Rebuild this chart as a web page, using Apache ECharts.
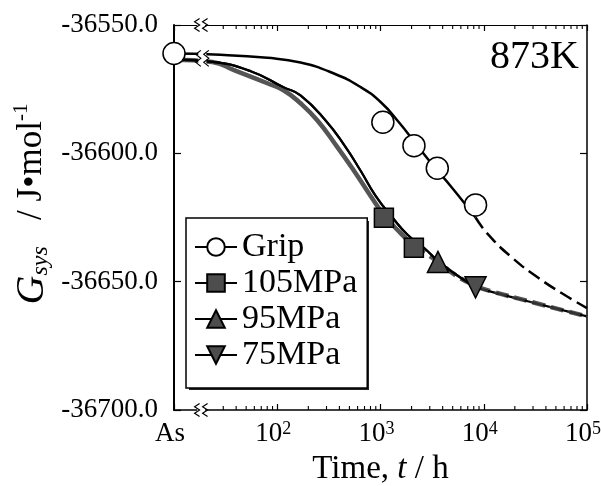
<!DOCTYPE html>
<html><head><meta charset="utf-8">
<script src="https://cdn.jsdelivr.net/npm/echarts@6/dist/echarts.min.js"></script>
<style>html,body{margin:0;padding:0;background:#fff}#c{width:601px;height:486px}</style>
</head><body><div id="c"></div>
<script>
// ---- axis settings ----
const X_MIN = 10, X_MAX = 100000;
const Y_MIN = -36700, Y_MAX = -36550, Y_STEP = 50;
const xTickLabels = { 1: 'As', 2: '10{s|2}', 3: '10{s|3}', 4: '10{s|4}', 5: '10{s|5}' };
const minorTickT = [30,40,50,60,70,80,90,200,300,400,500,600,700,800,900,
  2000,3000,4000,5000,6000,7000,8000,9000,20000,30000,40000,50000,60000,70000,80000,90000];

// ---- measured points ----
const gripT = [10, 1054, 2109, 3548, 8330];
const gripV = [-36561.1, -36587.9, -36597.0, -36605.8, -36620.1];
const mpa105T = [1079, 2105];
const mpa105V = [-36625.1, -36636.8];
const mpa95T = [3600];
const mpa95V = [-36642.3];
const mpa75T = [8330];
const mpa75V = [-36652.2];

// ---- fitted curves (solid part, dashed extrapolation) ----
const gripFitT = [10, 24.4, 80.2, 168, 354, 642, 1002, 1507, 2271, 3415, 4771, 7450, 8330];
const gripFitV = [-36561.1, -36561.5, -36562.8, -36564.6, -36568.9, -36574.2, -36580.0, -36587.9, -36597.0, -36605.9, -36612.7, -36622.4, -36625.0];
const gripExtT = [8330, 11130, 19000, 33180, 59230, 100000];
const gripExtV = [-36625.0, -36631.8, -36640.8, -36648.3, -36654.9, -36660.3];

const fit105T = [10, 23.5, 38.1, 80.2, 116, 168, 245, 373, 553, 802, 1079, 1565, 2105];
const fit105V = [-36563.5, -36564.4, -36567.6, -36572.7, -36575.5, -36580.5, -36587.2, -36597.0, -36606.8, -36616.6, -36624.0, -36631.1, -36636.1];
const ext105T = [2105, 3651, 5333, 8330, 11500, 30350, 64740, 100000];
const ext105V = [-36636.1, -36642.4, -36647.5, -36651.6, -36653.6, -36658.1, -36661.6, -36663.5];

const fit95T = [10, 23.5, 55.3, 116, 168, 294, 449, 642, 897, 1310, 1817, 2631, 3600];
const fit95V = [-36563.5, -36564.4, -36568.0, -36574.3, -36577.4, -36587.2, -36597.0, -36606.8, -36616.6, -36625.1, -36631.6, -36636.8, -36642.0];
const ext95T = [3600, 5333, 8330, 11500, 30350, 64740, 100000];
const ext95V = [-36642.0, -36647.1, -36652.0, -36653.8, -36658.2, -36661.6, -36663.5];

const fit75T = [10, 23.5, 55.3, 116, 168, 294, 449, 642, 897, 1310, 1817, 2631, 3600, 5333, 8330];
const fit75V = [-36563.5, -36564.4, -36568.0, -36574.3, -36577.4, -36587.2, -36597.0, -36606.8, -36616.6, -36625.1, -36631.6, -36636.8, -36642.0, -36647.1, -36652.2];
const ext75T = [8330, 11500, 30350, 64740, 100000];
const ext75V = [-36652.2, -36653.8, -36658.2, -36661.6, -36663.5];

// axis-break marks (data-space anchor positions)
const breakT = [18.3, 18.3, 18.8];
const breakV = [-36550, -36700, -36563];

const zip = (a, b) => a.map((v, i) => [v, b[i]]);
const FONT = 'Liberation Serif';
const MARK_FILL = '#4d4d4d';

function curve(name, T, V, color, width, dashed, z) {
  return {
    name, type: 'line', data: zip(T, V), symbol: 'none', smooth: 0.5,
    lineStyle: { color, width, type: dashed ? [13, 6] : 'solid', cap: 'butt', join: 'round' },
    z, silent: true
  };
}
function marks(name, T, V, symbol, size, fill, rotate) {
  return {
    name, type: 'line', data: zip(T, V), symbol, symbolSize: size, symbolRotate: rotate || 0,
    showAllSymbol: true, lineStyle: { width: 0, opacity: 0 },
    itemStyle: { color: fill, borderColor: '#000', borderWidth: 1.5, opacity: 1 },
    z: 6, silent: true
  };
}

const chart = echarts.init(document.getElementById('c'), null, { renderer: 'canvas' });

const option = {
  animation: false,
  backgroundColor: '#fff',
  grid: { left: 174, right: 14, top: 25, bottom: 76, containLabel: false, outerBoundsMode: 'none' },
  xAxis: [{
    type: 'log', logBase: 10, min: X_MIN, max: X_MAX, position: 'bottom',
    axisLine: { onZero: false, lineStyle: { color: '#000', width: 1.5 } },
    axisTick: { inside: true, length: 6, lineStyle: { color: '#000', width: 1.2 } },
    splitLine: { show: false },
    axisLabel: {
      color: '#000', fontFamily: FONT, fontSize: 27, margin: 10, padding: [0, 8, 0, 0],
      formatter: v => xTickLabels[Math.round(Math.log10(v))] || '',
      rich: { s: { fontSize: 18, fontFamily: FONT, verticalAlign: 'top', lineHeight: 18, padding: [0, 0, 10, 0] } }
    },
    name: '{a|Time, }{i|t}{a| / h}', nameLocation: 'middle', nameGap: 36,
    nameTextStyle: { color: '#000', fontFamily: FONT, fontSize: 33,
      rich: { a: { fontFamily: FONT, fontSize: 33, color: '#000' }, i: { fontFamily: FONT, fontSize: 33, fontStyle: 'italic', color: '#000' } } }
  }, {
    type: 'log', logBase: 10, min: X_MIN, max: X_MAX, position: 'top',
    axisLine: { onZero: false, lineStyle: { color: '#000', width: 1.2 } },
    axisTick: { inside: true, length: 6, lineStyle: { color: '#000', width: 1.2 } },
    axisLabel: { show: false }, splitLine: { show: false }
  }],
  yAxis: [{
    type: 'value', min: Y_MIN, max: Y_MAX, interval: Y_STEP, position: 'left',
    axisLine: { show: true, onZero: false, lineStyle: { color: '#000', width: 2 } },
    axisTick: { inside: true, length: 7, lineStyle: { color: '#000', width: 1.2 } },
    splitLine: { show: false },
    axisLabel: { color: '#000', fontFamily: FONT, fontSize: 27, margin: 16, formatter: v => v.toFixed(1) }
  }, {
    type: 'value', min: Y_MIN, max: Y_MAX, interval: Y_STEP, position: 'right',
    axisLine: { show: true, onZero: false, lineStyle: { color: '#000', width: 1.5 } },
    axisTick: { inside: true, length: 7, lineStyle: { color: '#000', width: 1.2 } },
    splitLine: { show: false }, axisLabel: { show: false }
  }],
  legend: {
    data: [
      { name: 'Grip', lineStyle: { color: '#000', width: 2, opacity: 1, type: 'solid' } },
      { name: '105MPa', lineStyle: { color: '#000', width: 2, opacity: 1, type: 'solid' } },
      { name: '95MPa', lineStyle: { color: '#000', width: 2, opacity: 1, type: 'solid' } },
      { name: '75MPa', lineStyle: { color: '#000', width: 2, opacity: 1, type: 'solid' } }
    ],
    orient: 'vertical', left: 186, top: 218, z: 8,
    itemWidth: 42, itemHeight: 22, itemGap: 2,
    textStyle: { fontSize: 34, lineHeight: 34, fontFamily: FONT, color: '#000' },
    backgroundColor: '#fff', borderColor: '#000', borderWidth: 1.5, borderRadius: 0,
    padding: [12, 10, 16, 8],
    selectedMode: false
  },
  graphic: [
    { type: 'rect', left: 189, top: 221, z: 7, shape: { width: 180, height: 169 }, style: { fill: '#222' } },
    { type: 'text', right: 22, top: 37, z: 20,
      style: { text: '873K', font: '40px "Liberation Serif"', fill: '#000' } },
    { type: 'text', x: 32, y: 204, rotation: Math.PI / 2, z: 20,
      style: {
        text: '{g|G}{s|sys}{t|   / J•mol}{p|-1}', align: 'center', verticalAlign: 'middle',
        rich: {
          g: { fontFamily: FONT, fontSize: 40, fontStyle: 'italic', lineHeight: 42, fill: '#000' },
          s: { fontFamily: FONT, fontSize: 24, fontStyle: 'italic', lineHeight: 24, verticalAlign: 'bottom', fill: '#000' },
          t: { fontFamily: FONT, fontSize: 35, lineHeight: 42, fill: '#000' },
          p: { fontFamily: FONT, fontSize: 21, lineHeight: 21, verticalAlign: 'top', fill: '#000' }
        }
      } }
  ],
  series: [
    curve('gripFit', gripFitT, gripFitV, '#000', 2.5, false, 3),
    curve('gripExt', gripExtT, gripExtV, '#000', 2.5, true, 3),
    curve('fit105', fit105T, fit105V, '#555', 4.5, false, 2),
    curve('ext105', ext105T, ext105V, '#555', 4.5, true, 2),
    curve('fit95', fit95T, fit95V, '#000', 2.2, false, 3),
    curve('ext95', ext95T, ext95V, '#000', 2.2, true, 3),
    curve('fit75', fit75T, fit75V, '#000', 2.2, false, 3),
    curve('ext75', ext75T, ext75V, '#333', 2.2, true, 3),
    {
      name: 'minorTicks', type: 'custom', silent: true, z: 4,
      data: minorTickT.map(t => [t, Y_MIN]),
      renderItem: (params, api) => {
        const b = api.coord([api.value(0), Y_MIN]);
        const t = api.coord([api.value(0), Y_MAX]);
        const st = { stroke: '#000', lineWidth: 1.1 };
        return { type: 'group', children: [
          { type: 'line', shape: { x1: b[0], y1: b[1], x2: b[0], y2: b[1] - 4 }, style: st },
          { type: 'line', shape: { x1: t[0], y1: t[1], x2: t[0], y2: t[1] + 4 }, style: st }
        ] };
      }
    },
    {
      name: 'breaks', type: 'custom', silent: true, z: 10,
      data: zip(breakT, breakV),
      renderItem: (params, api) => {
        const p = api.coord([api.value(0), api.value(1)]);
        const h = params.dataIndex === 2 ? 8 : 6.5;
        const cover = params.dataIndex === 2 ? 9 : 3;
        const zig = cx => ({ type: 'polyline',
          shape: { points: [[cx + 2.5, p[1] - h], [cx - 2.5, p[1] - h / 2], [cx + 2.5, p[1]], [cx - 2.5, p[1] + h / 2], [cx + 2.5, p[1] + h]] },
          style: { stroke: '#000', lineWidth: 1.2, fill: null } });
        return { type: 'group', children: [
          { type: 'rect', shape: { x: p[0] - 4, y: p[1] - cover, width: 8, height: cover * 2 }, style: { fill: '#fff' } },
          zig(p[0] - 4), zig(p[0] + 4)
        ] };
      }
    },
    marks('Grip', gripT, gripV, 'circle', 22, '#fff'),
    marks('105MPa', mpa105T, mpa105V, 'rect', 19, MARK_FILL),
    marks('95MPa', mpa95T, mpa95V, 'triangle', 21, MARK_FILL),
    marks('75MPa', mpa75T, mpa75V, 'triangle', 21, MARK_FILL, 180)
  ]
};
chart.setOption(option);
</script></body></html>
